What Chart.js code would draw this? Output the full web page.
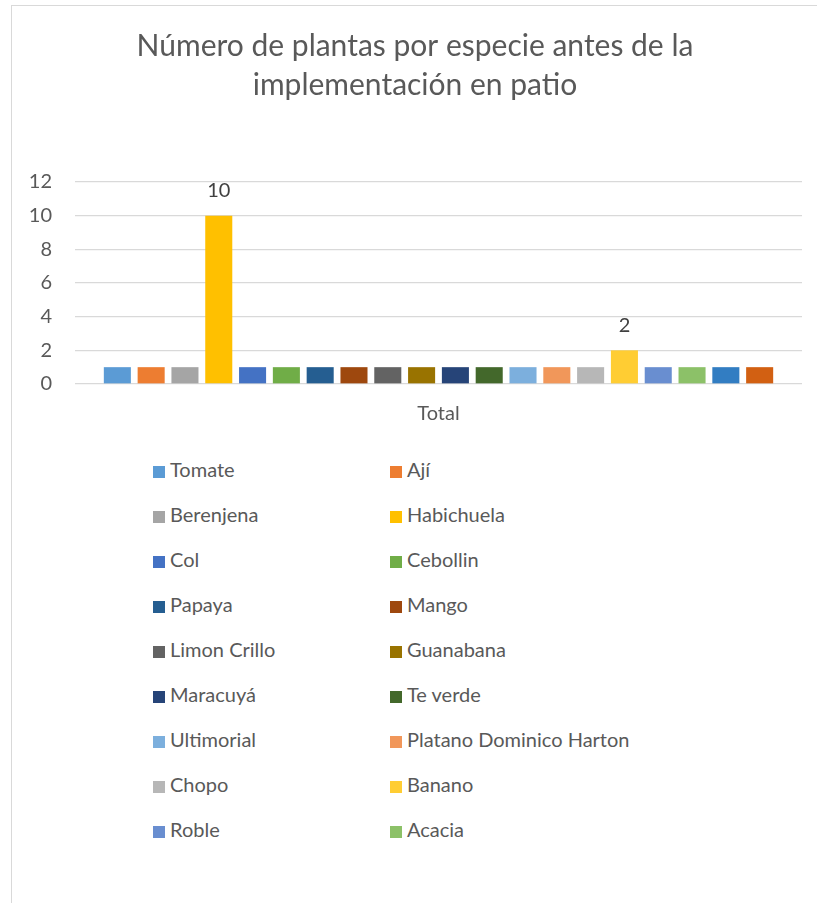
<!DOCTYPE html>
<html>
<head>
<meta charset="utf-8">
<script src="https://cdn.jsdelivr.net/npm/chart.js@4.4.1/dist/chart.umd.min.js"></script>
<style>
  body { margin: 0; background: #ffffff; width: 817px; height: 903px; overflow: hidden; position: relative; font-family: Lato, "Open Sans", sans-serif; }
  #frame { position: absolute; left: 11px; top: 5px; right: -2px; bottom: -2px; border-left: 1px solid #d9d9d9; border-top: 1px solid #d9d9d9; }
  #wrap { position: absolute; left: 0; top: 0; width: 817px; height: 440px; }
  #legend { position: absolute; left: 153px; top: 457px; width: 600px; }
  .item { position: absolute; height: 24px; line-height: 24px; font-size: 20px; color: #595959; white-space: nowrap; }
  .box { display: inline-block; width: 12px; height: 12px; margin-right: 5px; vertical-align: -1px; }
</style>
</head>
<body>
<div id="frame"></div>
<div id="wrap"><canvas id="plantChart" width="817" height="440"></canvas></div>
<div id="legend"></div>
<script>
// chart data
const categories = ["Total"];
const species = ["Tomate", "Ají", "Berenjena", "Habichuela", "Col", "Cebollin", "Papaya", "Mango",
    "Limon Crillo", "Guanabana", "Maracuyá", "Te verde", "Ultimorial", "Platano Dominico Harton",
    "Chopo", "Banano", "Roble", "Acacia", "Especie 19", "Especie 20"];
const counts = [1, 1, 1, 10, 1, 1, 1, 1, 1, 1, 1, 1, 1, 1, 1, 2, 1, 1, 1, 1];
const showValue = [false, false, false, true, false, false, false, false, false, false,
    false, false, false, false, false, true, false, false, false, false];
const colors = ["#5B9BD5", "#ED7D31", "#A5A5A5", "#FFC000", "#4472C4", "#70AD47", "#255E91", "#9E480E",
    "#636363", "#997300", "#264478", "#43682B", "#7CAFDD", "#F1975A", "#B7B7B7", "#FFCD33",
    "#698ED0", "#8CC168", "#327DC2", "#D26012"];
const yTicks = [0, 2, 4, 6, 8, 10, 12];
const legendCount = 18; // legend box only has room for 18 entries

const fontFamily = "Lato, 'Open Sans', sans-serif";

// value labels above the selected bars
const valueLabels = {
    id: "valueLabels",
    afterDatasetsDraw(chart) {
        const ctx = chart.ctx;
        ctx.save();
        ctx.font = "20px " + fontFamily;
        ctx.fillStyle = "#404040";
        ctx.textAlign = "center";
        ctx.textBaseline = "middle";
        chart.data.datasets.forEach((ds, i) => {
            if (!showValue[i]) return;
            const bar = chart.getDatasetMeta(i).data[0];
            ctx.fillText(ds.data[0], bar.x, bar.y - 25);
        });
        ctx.restore();
    }
};

const datasets = species.map((name, i) => ({
    label: name,
    data: [counts[i]],
    backgroundColor: colors[i],
    borderWidth: 0,
    categoryPercentage: 0.93,
    barPercentage: 0.8
}));

const chart = new Chart(document.getElementById("plantChart"), {
    type: "bar",
    data: { labels: categories, datasets: datasets },
    plugins: [valueLabels],
    options: {
        responsive: false,
        animation: false,
        layout: { padding: { left: 28, right: 15, top: 0, bottom: 0 } },
        plugins: {
            legend: { display: false },
            tooltip: { enabled: false },
            title: {
                display: true,
                text: ["Número de plantas por especie antes de la", "implementación en patio"],
                color: "#595959",
                font: { family: fontFamily, size: 30, weight: "normal", lineHeight: 1.3 },
                padding: { top: 27, bottom: 77 }
            }
        },
        scales: {
            x: {
                grid: { display: false },
                border: { display: false },
                ticks: { color: "#595959", font: { family: fontFamily, size: 20 }, padding: 10 },
                afterFit(scale) { scale.height = 56; }
            },
            y: {
                min: 0,
                max: 12,
                afterBuildTicks(scale) { scale.ticks = yTicks.map(v => ({ value: v })); },
                grid: { color: "#d9d9d9", lineWidth: 1.3, drawTicks: false },
                border: { display: false },
                ticks: { color: "#595959", font: { family: fontFamily, size: 20 }, padding: 23 },
                afterFit(scale) { scale.width = 47; }
            }
        }
    }
});

// two-column legend built from the same series
const legendEl = document.getElementById("legend");
species.slice(0, legendCount).forEach((name, i) => {
    const item = document.createElement("div");
    item.className = "item";
    item.style.left = (i % 2 === 0 ? 0 : 237) + "px";
    item.style.top = (Math.floor(i / 2) * 45) + "px";
    const box = document.createElement("span");
    box.className = "box";
    box.style.background = colors[i];
    item.appendChild(box);
    item.appendChild(document.createTextNode(name));
    legendEl.appendChild(item);
});
</script>
</body>
</html>
